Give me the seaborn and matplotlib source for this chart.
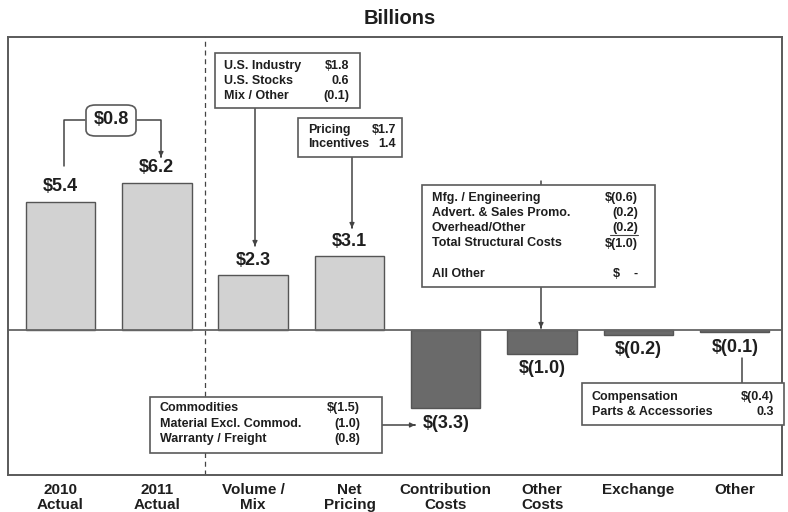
import matplotlib
matplotlib.use("Agg")
import matplotlib.pyplot as plt
import seaborn as sns
import pandas as pd
from matplotlib.patches import Rectangle, FancyBboxPatch
from matplotlib.lines import Line2D

# ---- data ----
categories = ["2010\nActual", "2011\nActual", "Volume /\nMix", "Net\nPricing",
              "Contribution\nCosts", "Other\nCosts", "Exchange", "Other"]
values = [5.4, 6.2, 2.3, 3.1, -3.3, -1.0, -0.2, -0.1]
value_labels = ["$5.4", "$6.2", "$2.3", "$3.1", "$(3.3)", "$(1.0)", "$(0.2)", "$(0.1)"]
change_label = "$0.8"

volume_items = ["U.S. Industry", "U.S. Stocks", "Mix / Other"]
volume_vals = ["$1.8", "0.6", "(0.1)"]
pricing_items = ["Pricing", "Incentives"]
pricing_vals = ["$1.7", "1.4"]
other_cost_items = ["Mfg. / Engineering", "Advert. & Sales Promo.", "Overhead/Other",
                    "Total Structural Costs", "", "All Other"]
other_cost_vals = ["$(0.6)", "(0.2)", "(0.2)", "$(1.0)", "", "$    -"]
contrib_items = ["Commodities", "Material Excl. Commod.", "Warranty / Freight"]
contrib_vals = ["$(1.5)", "(1.0)", "(0.8)"]
other_items = ["Compensation", "Parts & Accessories"]
other_vals = ["$(0.4)", "0.3"]

# ---- style ----
sns.set_theme(style="white")
plt.rcParams["font.family"] = ["Liberation Sans", "DejaVu Sans"]
TXT = "#1e1e1e"
EDGE = "#555555"
BOXFS = 9

W, H = 788, 512
fig = plt.figure(figsize=(W / 100, H / 100), dpi=100)
ax = fig.add_axes([8 / W, 1 - 475 / H, (782 - 8) / W, (475 - 37) / H])

df = pd.DataFrame({"cat": categories, "val": values})
colors = ["#d2d2d2" if v > 0 else "#6a6a6a" for v in values]
sns.barplot(data=df, x="cat", y="val", hue="cat", palette=colors, legend=False,
            width=0.72, edgecolor=EDGE, linewidth=1.0, saturation=1, ax=ax)

ax.set_xlim(-0.545, 7.49)
ax.set_ylim(-6.1, 12.34)
ax.set_xlabel("")
ax.set_ylabel("")
ax.set_yticks([])
ax.axhline(0, color="#666666", lw=1.3, zorder=1)
ax.axvline(1.5, color="#444444", lw=0.9, ls=(0, (4, 3)), zorder=0)

for s in ax.spines.values():
    s.set_color("#5a5a5a")
    s.set_linewidth(1.4)

ax.set_xticks(range(len(categories)))
ax.set_xticklabels(categories, fontsize=11, fontweight="bold", color=TXT, linespacing=1.1)
ax.tick_params(axis="x", which="major", length=0, pad=6)
ax.set_xticks([0.5, 2.5, 3.5, 4.5, 5.5, 6.5], minor=True)
ax.tick_params(axis="x", which="minor", direction="in", length=7, width=1.0, color="#5a5a5a")

# value labels
for i, (v, lab) in enumerate(zip(values, value_labels)):
    off = 15 if v > 0 else -15
    ax.annotate(lab, (i, v), xytext=(0, off), textcoords="offset pixels",
                ha="center", va="center", fontsize=13, fontweight="bold", color=TXT)

fig.text(400 / W, 1 - 19 / H, "Billions", ha="center", va="center",
         fontsize=14.5, fontweight="bold", color=TXT)


def F(x, y):
    return (x / W, 1 - y / H)


def box(x0, y0, x1, y1):
    r = Rectangle(F(x0, y1), (x1 - x0) / W, (y1 - y0) / H, transform=fig.transFigure,
                  facecolor="white", edgecolor="#5a5a5a", lw=1.2, zorder=5)
    fig.add_artist(r)


def rows(items, vals, xl, xr, ys):
    for it, vv, y in zip(items, vals, ys):
        fig.text(*F(xl, y), it, ha="left", va="center", fontsize=BOXFS, fontweight="bold",
                 color=TXT, zorder=6)
        fig.text(*F(xr, y), vv, ha="right", va="center", fontsize=BOXFS, fontweight="bold",
                 color=TXT, zorder=6)


def line(pts, arrow=False):
    xs = [p[0] / W for p in pts]
    ys = [1 - p[1] / H for p in pts]
    fig.add_artist(Line2D(xs, ys, transform=fig.transFigure, color="#444444",
                          lw=1.1, zorder=4))
    if arrow:
        (x0, y0), (x1, y1) = pts[-2], pts[-1]
        ax.annotate("", xy=F(x1, y1), xytext=F(x1 - (x1 - x0) * 0.01, y1 - (y1 - y0) * 0.01),
                    xycoords="figure fraction", textcoords="figure fraction",
                    arrowprops=dict(arrowstyle="-|>", color="#444444", lw=1.0,
                                    mutation_scale=7, shrinkA=0, shrinkB=0))


# $0.8 connector
line([(64, 166), (64, 120), (85, 120)])
line([(137, 120), (161, 120), (161, 157)], arrow=True)
rb = FancyBboxPatch(F(86, 136), (136 - 86) / W, (136 - 105) / H,
                    boxstyle="round,pad=0,rounding_size=0.012", transform=fig.transFigure,
                    facecolor="white", edgecolor="#5a5a5a", lw=1.2, zorder=5)
fig.add_artist(rb)
fig.text(*F(111, 120), change_label, ha="center", va="center", fontsize=13,
         fontweight="bold", color=TXT, zorder=6)

# Volume / Mix box
box(215, 53, 360, 108)
rows(volume_items, volume_vals, 224, 349, [66, 81, 96])
line([(255, 108), (255, 246)], arrow=True)

# Pricing box
box(298, 118, 402, 157)
rows(pricing_items, pricing_vals, 308, 396, [130, 144])
line([(352, 157), (352, 228)], arrow=True)

# Other costs box
line([(541, 181), (541, 185)])
box(422, 185, 655, 287)
rows(other_cost_items, other_cost_vals, 432, 638, [198, 213, 228, 243.5, 258, 274])
fig.add_artist(Line2D([610 / W, 638 / W], [1 - 235 / H, 1 - 235 / H],
                      transform=fig.transFigure, color="#444444", lw=0.8, zorder=6))
line([(541, 287), (541, 328)], arrow=True)

# Contribution box
box(150, 397, 382, 453)
rows(contrib_items, contrib_vals, 160, 360, [408, 424, 439])
line([(382, 425), (415, 425)], arrow=True)

# Other box
box(582, 383, 784, 425)
rows(other_items, other_vals, 592, 774, [397, 412])
line([(742, 383), (742, 358)])

fig.savefig("out.png", dpi=100)
